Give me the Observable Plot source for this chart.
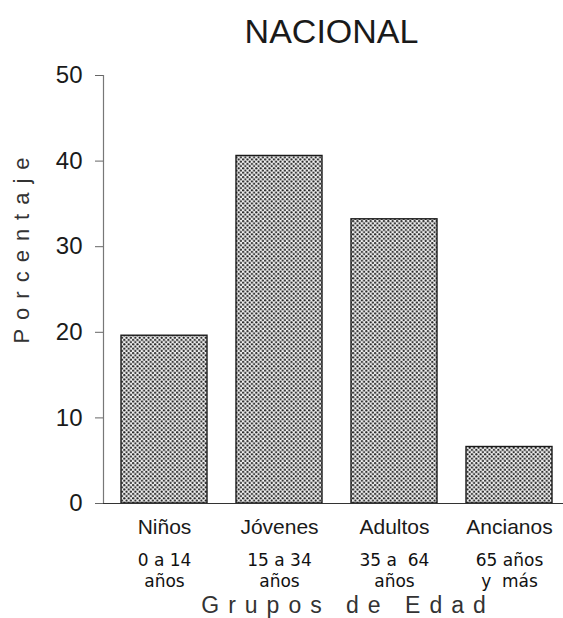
<!DOCTYPE html>
<html>
<head>
<meta charset="utf-8">
<script src="https://cdn.jsdelivr.net/npm/d3@7"></script>
<script src="https://cdn.jsdelivr.net/npm/@observablehq/plot@0.6"></script>
<style>
  html, body { margin: 0; padding: 0; background: #fff; }
  svg { font-family: "Liberation Sans", Arial, Helvetica, sans-serif; }
</style>
</head>
<body>
<div id="chart"></div>
<script>
const titulo = "NACIONAL";
const grupos = ["Niños", "Jóvenes", "Adultos", "Ancianos"];
const rangos = ["0 a 14\naños", "15 a 34\naños", "35 a  64\naños", "65 años\ny  más"];
const porcentajes = [19.6, 40.6, 33.2, 6.6];
const yTicks = [0, 10, 20, 30, 40, 50];
const yLabel = "Porcentaje";
const xLabel = "Grupos de Edad";

const data = grupos.map((g, i) => ({grupo: g, rango: rangos[i], valor: porcentajes[i]}));

const chart = Plot.plot({
  width: 563,
  height: 618,
  marginTop: 75,
  marginBottom: 115,
  marginLeft: 103,
  marginRight: 0,
  style: {fontFamily: '"Liberation Sans", Arial, sans-serif', color: "#222", background: "#fff"},
  x: {domain: grupos, axis: null, range: [106, 568], paddingInner: 0.25, paddingOuter: 0.125},
  y: {domain: [0, 50], axis: null},
  marks: [
    Plot.barY(data, {x: "grupo", y: "valor", fill: "url(#dots)", stroke: "#1a1a1a", strokeWidth: 1.4}),
    Plot.frame({anchor: "left", stroke: "#777", strokeWidth: 1.2}),
    Plot.ruleY([0], {stroke: "#333", strokeWidth: 1.2}),
    Plot.axisY({ticks: yTicks, tickSize: 8, tickPadding: 13, fontSize: 24, label: null, stroke: "#666", fill: "#1a1a1a"}),
    Plot.text(data, {x: "grupo", text: "grupo", frameAnchor: "bottom", dy: 30, fontSize: 21, fill: "#1a1a1a"}),
    Plot.text(data, {x: "grupo", text: "rango", frameAnchor: "bottom", dy: 47, lineAnchor: "top", lineHeight: 1.27, fontSize: 17, fontFamily: '"DejaVu Sans", sans-serif', fill: "#111"}),
    Plot.text([titulo], {frameAnchor: "top", dx: -2, dy: -33, lineAnchor: "bottom", fontSize: 34, fill: "#1a1a1a"}),
    Plot.text([xLabel], {frameAnchor: "bottom", textAnchor: "middle", dx: 14.5, dy: 109, lineAnchor: "bottom", fontSize: 23, fill: "#333", className: "spaced"}),
    Plot.text([yLabel], {frameAnchor: "left", textAnchor: "middle", dx: -82, dy: -43.5, rotate: -90, fontSize: 22, fill: "#333", className: "spaced"})
  ]
});

const svg = d3.select(chart);
svg.insert("defs", ":first-child").html(
  '<pattern id="dots" width="4.4" height="4.4" patternUnits="userSpaceOnUse">' +
  '<rect width="4.4" height="4.4" fill="#f2f2f2"/>' +
  '<circle cx="1.1" cy="1.1" r="1.1" fill="#222"/>' +
  '<circle cx="3.3" cy="3.3" r="1.1" fill="#222"/>' +
  '</pattern>'
);
svg.selectAll(".spaced text").attr("letter-spacing", 9);
document.getElementById("chart").appendChild(chart);
</script>
</body>
</html>
